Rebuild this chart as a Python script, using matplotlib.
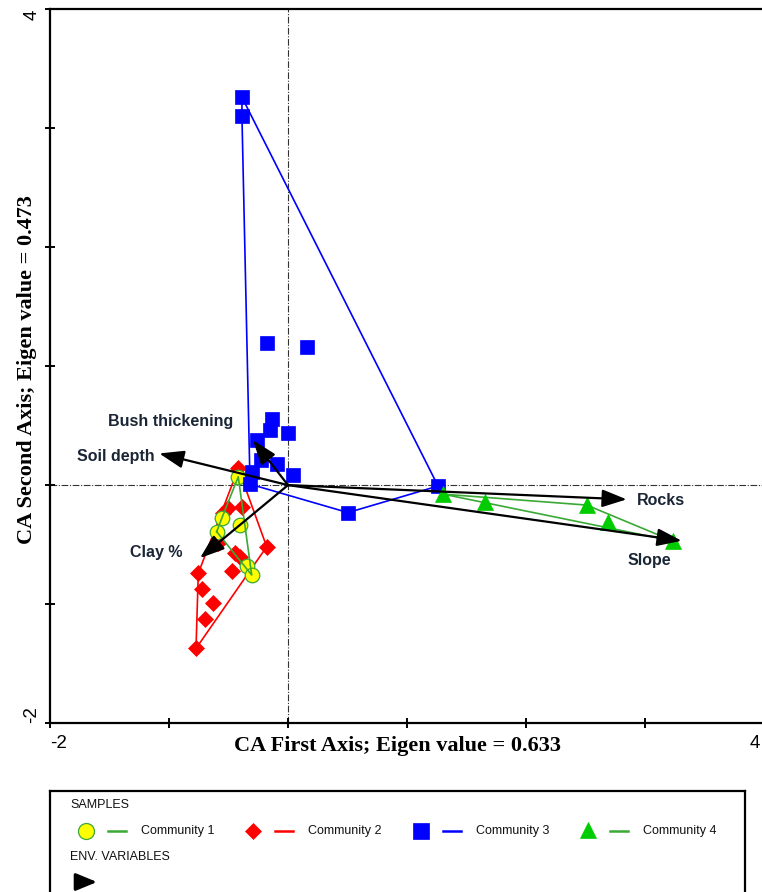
import matplotlib
matplotlib.use('Agg')
import matplotlib.pyplot as plt
from matplotlib.transforms import ScaledTranslation
import numpy as np

# ---------------- data ----------------
c1_x = [-0.418, -0.557, -0.599, -0.403, -0.347, -0.305]
c1_y = [0.070, -0.280, -0.392, -0.336, -0.676, -0.756]

c2_x = [-0.418, -0.502, -0.389, -0.544, -0.179, -0.586, -0.445, -0.403,
        -0.473, -0.754, -0.725, -0.628, -0.697, -0.773]
c2_y = [0.140, -0.196, -0.182, -0.238, -0.518, -0.490, -0.574, -0.605,
        -0.718, -0.742, -0.876, -0.994, -1.129, -1.373]

c3_x = [-0.387, -0.387, -0.179, 0.162, -0.137, -0.151, 0.000, -0.261,
        -0.227, -0.092, 0.039, -0.303, -0.319, 0.504, 1.261]
c3_y = [3.261, 3.101, 1.196, 1.157, 0.552, 0.462, 0.434, 0.378,
        0.210, 0.176, 0.084, 0.109, 0.008, -0.231, -0.008]

c4_x = [1.303, 1.655, 2.510, 2.692, 3.238]
c4_y = [-0.076, -0.143, -0.168, -0.311, -0.471]

env_names = ['Rocks', 'Slope', 'Soil depth', 'Bush thickening', 'Clay %']
env_x = [2.846, 3.308, -1.082, -0.294, -0.739]
env_y = [-0.120, -0.468, 0.266, 0.378, -0.613]

community_names = ['Community 1', 'Community 2', 'Community 3', 'Community 4']
x_label = 'CA First Axis; Eigen value = 0.633'
y_label = 'CA Second Axis; Eigen value = 0.473'
x_ticks = [-2, -1, 0, 1, 2, 3, 4]
y_ticks = [-2, -1, 0, 1, 2, 3, 4]

# ---------------- styles ----------------
LINE_GREEN = '#3aa935'
TRI_GREEN = '#00cc00'
LABEL_COL = '#1a2535'
styles = [
    dict(marker='o', mfc='#ffff00', mec=LINE_GREEN, ms=10.5, mew=0.9, line=LINE_GREEN, lms=11.5),
    dict(marker='D', mfc='#ff0000', mec='#ff0000', ms=8.4, mew=0.5, line='#ff0000', lms=8.5),
    dict(marker='s', mfc='#0000ff', mec='#0000ff', ms=10.5, mew=0.5, line='#0000ff', lms=11.5),
    dict(marker='^', mfc=TRI_GREEN, mec=TRI_GREEN, ms=11, mew=0.5, line=LINE_GREEN, lms=11),
]
# label offsets (points) relative to the arrow tips, and alignment
label_style = {
    'Rocks': ((7.5, -0.7), 'left'),
    'Slope': ((-23, -14), 'center'),
    'Soil depth': ((-3, -2.5), 'right'),
    'Bush thickening': ((-59, 13.2), 'center'),
    'Clay %': ((-13, 4.3), 'right'),
}


def convex_hull(xs, ys):
    pts = sorted(set(zip(xs, ys)))
    if len(pts) < 3:
        return pts

    def cross(o, a, b):
        return (a[0] - o[0]) * (b[1] - o[1]) - (a[1] - o[1]) * (b[0] - o[0])
    lower, upper = [], []
    for p in pts:
        while len(lower) >= 2 and cross(lower[-2], lower[-1], p) <= 0:
            lower.pop()
        lower.append(p)
    for p in reversed(pts):
        while len(upper) >= 2 and cross(upper[-2], upper[-1], p) <= 0:
            upper.pop()
        upper.append(p)
    return lower[:-1] + upper[:-1]


W, H = 762, 892
fig = plt.figure(figsize=(W / 100, H / 100), dpi=100)
ax = fig.add_axes([50 / W, 1 - 723 / H, 714 / W, 713.7 / H])
ax.set_xlim(-2, 4)
ax.set_ylim(-2, 4)

# reference lines
ax.axhline(0, color='#333333', lw=0.8, ls=(0, (6, 1.5, 1, 1.5)), zorder=1)
ax.axvline(0, color='#333333', lw=0.8, ls=(0, (6, 1.5, 1, 1.5)), zorder=1)

groups = [(c1_x, c1_y), (c2_x, c2_y), (c3_x, c3_y), (c4_x, c4_y)]
marker_z = [3.2, 3.0, 3.4, 3.6]
line_z = [3.3, 2.0, 2.1, 2.2]
for (gx, gy), st, mz, lz in zip(groups, styles, marker_z, line_z):
    hull = convex_hull(gx, gy)
    hx = [p[0] for p in hull] + [hull[0][0]]
    hy = [p[1] for p in hull] + [hull[0][1]]
    ax.plot(hx, hy, color=st['line'], lw=1.2, zorder=lz)
    ax.plot(gx, gy, ls='none', marker=st['marker'], mfc=st['mfc'], mec=st['mec'],
            ms=st['ms'], mew=st['mew'], zorder=mz)

# environmental arrows
for name, ex, ey in zip(env_names, env_x, env_y):
    ax.annotate('', xy=(ex, ey), xytext=(0, 0), zorder=5,
                arrowprops=dict(arrowstyle='-|>,head_length=0.75,head_width=0.27',
                                mutation_scale=20, lw=1.6, color='black',
                                shrinkA=0, shrinkB=0))
    off, ha = label_style[name]
    ax.annotate(name, xy=(ex, ey), xytext=off, textcoords='offset points',
                ha=ha, va='center', fontsize=11.5, fontweight='bold',
                family='Liberation Sans', color=LABEL_COL, zorder=6)

# spines and ticks
for s in ['left', 'bottom', 'top', 'right']:
    ax.spines[s].set_linewidth(1.6)
ax.set_xticks(x_ticks)
ax.set_yticks(y_ticks)
ax.tick_params(direction='inout', length=7, width=1.4, pad=5,
               labelsize=13.5, top=False, right=False)
ax.set_xticklabels([str(t) if t in (x_ticks[0], x_ticks[-1]) else '' for t in x_ticks],
                   family='Liberation Sans')
ax.set_yticklabels([str(t) if t in (y_ticks[0], y_ticks[-1]) else '' for t in y_ticks],
                   family='Liberation Sans', rotation=90)
xtl = ax.get_xticklabels()
xtl[0].set_ha('left')
xtl[-1].set_ha('right')
xtl[-1].set_transform(xtl[-1].get_transform() + ScaledTranslation(-3 / 72, 0, fig.dpi_scale_trans))
ytl = ax.get_yticklabels()
ytl[0].set_va('bottom')
ytl[-1].set_va('top')
ax.yaxis.set_tick_params(pad=3.5)

ax.set_xlabel(x_label, family='Liberation Serif', fontweight='bold', fontsize=16)
ax.set_ylabel(y_label, family='Liberation Serif', fontweight='bold', fontsize=16)
ax.xaxis.set_label_coords(0.486, -0.018)
ax.yaxis.set_label_coords(-0.018, 0.495)

# ---------------- legend box ----------------
lax = fig.add_axes([50 / W, 1 - 905 / H, 695 / W, 114 / H])
lax.set_xlim(50, 745)
lax.set_ylim(905, 791)
lax.set_xticks([])
lax.set_yticks([])
for s in lax.spines.values():
    s.set_linewidth(1.6)
lax.patch.set_alpha(0)

lfont = dict(family='Liberation Sans', fontsize=9, va='center', color='#111111')
lax.text(70, 805, 'SAMPLES', **lfont)
lax.text(70, 857, 'ENV. VARIABLES', **lfont)
row_y = 831
mark_x = [86, 253, 421, 588]
for name, st, mx in zip(community_names, styles, mark_x):
    lax.plot([mx], [row_y - (1 if st['marker'] == '^' else 0)], ls='none',
             marker=st['marker'], mfc=st['mfc'], mec=st['mec'],
             ms=st['lms'], mew=st['mew'])
    lax.plot([mx + 22, mx + 40], [row_y, row_y], color=st['line'], lw=1.8)
    lax.text(mx + 55, row_y, name, **lfont)
lax.annotate('', xy=(97, 882), xytext=(77, 882),
             arrowprops=dict(arrowstyle='-|>,head_length=0.8,head_width=0.33',
                             mutation_scale=16, lw=2.2, color='black',
                             shrinkA=0, shrinkB=0))

fig.savefig('out.png', dpi=100)
